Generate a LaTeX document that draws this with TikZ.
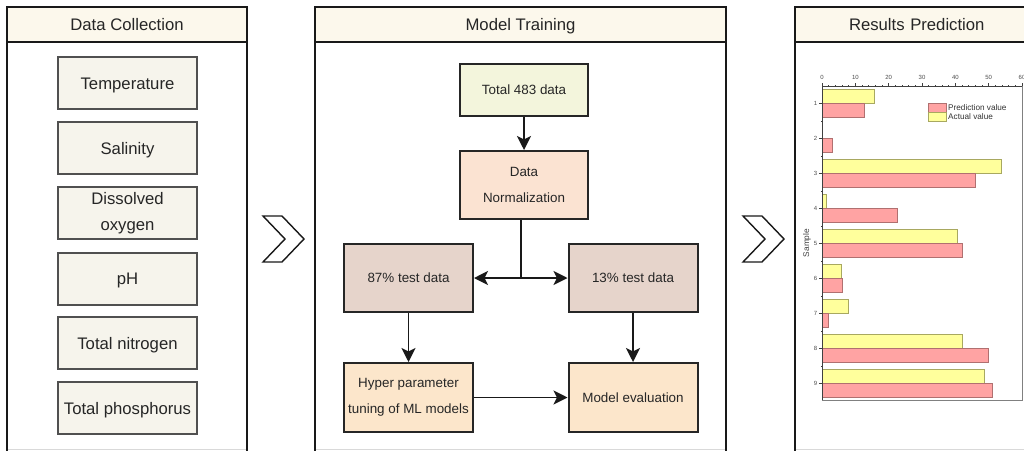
\documentclass[tikz,border=0pt]{standalone}
\usepackage{fontspec}
\setmainfont{Liberation Sans}
\usetikzlibrary{arrows.meta}
\definecolor{hdrfill}{HTML}{FCF8EC}
\definecolor{leftfill}{HTML}{F6F4EC}
\definecolor{totfill}{HTML}{F3F5DC}
\definecolor{normfill}{HTML}{FBE3D2}
\definecolor{splitfill}{HTML}{E6D4CB}
\definecolor{lowfill}{HTML}{FCE6CB}
\definecolor{boxline}{HTML}{505050}
\definecolor{redbar}{HTML}{FFA3A3}
\definecolor{redline}{HTML}{B07070}
\definecolor{yelbar}{HTML}{FFFF9C}
\definecolor{yelline}{HTML}{A8A860}
\definecolor{axgray}{HTML}{808080}
\tikzset{
  panel/.style={draw=black!90,line width=1.8pt},
  hdrbox/.style={draw=black!90,line width=1.8pt,fill=hdrfill,minimum height=35pt,inner sep=0pt,font=\fontsize{16.7}{20}\selectfont,text=black!85,text height=12pt,text depth=0pt},
  leftbox/.style={draw=boxline,line width=2pt,fill=leftfill,minimum width=139pt,minimum height=52pt,inner sep=0pt,align=center,font=\fontsize{16.7}{26}\selectfont,text=black!85},
  onel/.style={text height=12pt,text depth=0pt},
  midbox/.style={draw=black!85,line width=2pt,minimum width=129pt,inner sep=0pt,align=center,font=\fontsize{13.4}{25.5}\selectfont,text=black!85},
  onem/.style={text height=9.6pt,text depth=0pt},
  arr/.style={line width=1.8pt,draw=black!90,-{Stealth[length=14pt,width=14pt,inset=3.5pt]}},
  conn/.style={line width=1.8pt,draw=black!90},
  chev/.style={draw=black!90,line width=1.4pt,line join=miter},
  rbar/.style={fill=redbar,draw=redline,line width=0.6pt},
  ybar/.style={fill=yelbar,draw=yelline,line width=0.6pt},
  ticklab/.style={font=\fontsize{6}{7}\selectfont,text=black!70,inner sep=0pt},
  leglab/.style={font=\fontsize{8.2}{9}\selectfont,text=black!80,inner sep=0pt,anchor=west},
}
\begin{document}
\begin{tikzpicture}[x=1pt,y=-1pt]
\useasboundingbox (0,0) rectangle (1024,450);
\clip (0,0) rectangle (1024,450);
\fill[white] (0,0) rectangle (1024,450);

% panels
\draw[panel] (7,451) -- (7,7) -- (247,7) -- (247,451);
\draw[panel] (315,451) -- (315,7) -- (726,7) -- (726,451);
\draw[panel] (795,451) -- (795,7) -- (1040,7) -- (1040,451);
\draw[black!15,line width=1pt] (8,449) -- (246,449);
\draw[black!15,line width=1pt] (316,449) -- (725,449);
\draw[black!15,line width=1pt] (796,449) -- (1024,449);

\node[hdrbox,minimum width=240pt] (h1) at (127,24.5) {Data Collection};
\node[hdrbox,minimum width=411pt] (h2) at (520.5,24.5) {Model Training};
\node[hdrbox,minimum width=245pt,text width=239pt,align=left] (h3) at (917.5,24.5) {\hspace*{51pt}Results Prediction};

% left boxes
\node[leftbox,onel] (temp) at (127.5,83) {Temperature};
\node[leftbox,onel] (sal) at (127.5,148) {Salinity};
\node[leftbox] (dox) at (127.5,213) {Dissolved\\oxygen};
\node[leftbox,onel] (ph) at (127.5,278.5) {pH};
\node[leftbox,onel] (tn) at (127.5,343) {Total nitrogen};
\node[leftbox,onel] (tp) at (127.5,408) {Total phosphorus};

% chevrons
\draw[chev] (263,216) -- (282,216) -- (304,239) -- (282,262) -- (263,262) -- (285,239) -- cycle;
\draw[chev] (743,216) -- (762,216) -- (784,239) -- (762,262) -- (743,262) -- (765,239) -- cycle;

% middle boxes
\node[midbox,onem,fill=totfill,minimum width=128pt,minimum height=52pt] (tot) at (524,90) {Total 483 data};
\node[midbox,fill=normfill,minimum width=128pt,minimum height=68pt] (norm) at (524,185) {Data\\Normalization};
\node[midbox,onem,fill=splitfill,minimum height=68pt] (p87) at (408.5,278) {87\% test data};
\node[midbox,onem,fill=splitfill,minimum height=68pt] (p13) at (633,278) {13\% test data};
\node[midbox,fill=lowfill,minimum height=69pt] (hyp) at (408.5,397.5) {Hyper parameter\\tuning of ML models};
\node[midbox,onem,fill=lowfill,minimum height=69pt] (eval) at (633,397.5) {Model evaluation};
\coordinate (jn) at (521,278);

\draw[arr] (tot) -- (norm);
\draw[conn] (norm.south -| jn) -- (jn);
\draw[arr] (jn) -- (p87.east);
\draw[arr] (jn) -- (p13.west);
\draw[arr] (p87) -- (hyp);
\draw[arr] (p13) -- (eval);
\draw[arr] (hyp.east |- eval) -- (eval.west);

% chart bars
\foreach \i/\ya/\rb in {1/874/864, 2/822/832, 3/1001/975, 4/826/897, 5/957/962, 6/841/842, 7/848/828, 8/962/988, 9/984/992}{
  \ifnum\ya>822
    \filldraw[ybar] (822,{86+35*(\i-1)+3.5}) rectangle (\ya,{86+35*(\i-0.5)});
  \fi
  \filldraw[rbar] (822,{86+35*(\i-0.5)}) rectangle (\rb,{86+35*\i-3.5});
}
% chart frame and axes
\draw[axgray,line width=0.8pt] (822,86) rectangle (1022,400);
\draw[black!75,line width=0.8pt] (1022,86) -- (822,86) -- (822,400);
\foreach \i in {0,...,6}{
  \draw[black!75,line width=0.6pt] ({822+\i*33.333},86) -- ++(0,-3);
  \node[ticklab] (tx\i) at ({822+\i*33.333},77) {\the\numexpr\i*10\relax};
}
\foreach \i in {1,...,29}{
  \draw[black!75,line width=0.5pt] ({822+\i*6.6667},86) -- ++(0,-1.5);
}
\foreach \i in {1,...,9}{
  \draw[black!75,line width=0.6pt] (822,{86+35*(\i-0.5)}) -- ++(-3,0);
  \node[ticklab] (ty\i) at (815.5,{86+35*(\i-0.5)}) {\i};
}
\foreach \i in {1,...,8}{
  \draw[black!75,line width=0.5pt] (822,{86+35*\i}) -- ++(-1.5,0);
}
\node[rotate=90,font=\fontsize{8.3}{9}\selectfont,text=black!75,inner sep=0pt] (ylab) at (807,243) {Sample};

% legend
\filldraw[rbar] (928,103) rectangle (946,112);
\filldraw[ybar] (928,112) rectangle (946,121);
\node[leglab] (lg1) at (948,107.5) {Prediction value};
\node[leglab] (lg2) at (948,117) {Actual value};
\end{tikzpicture}
\end{document}
